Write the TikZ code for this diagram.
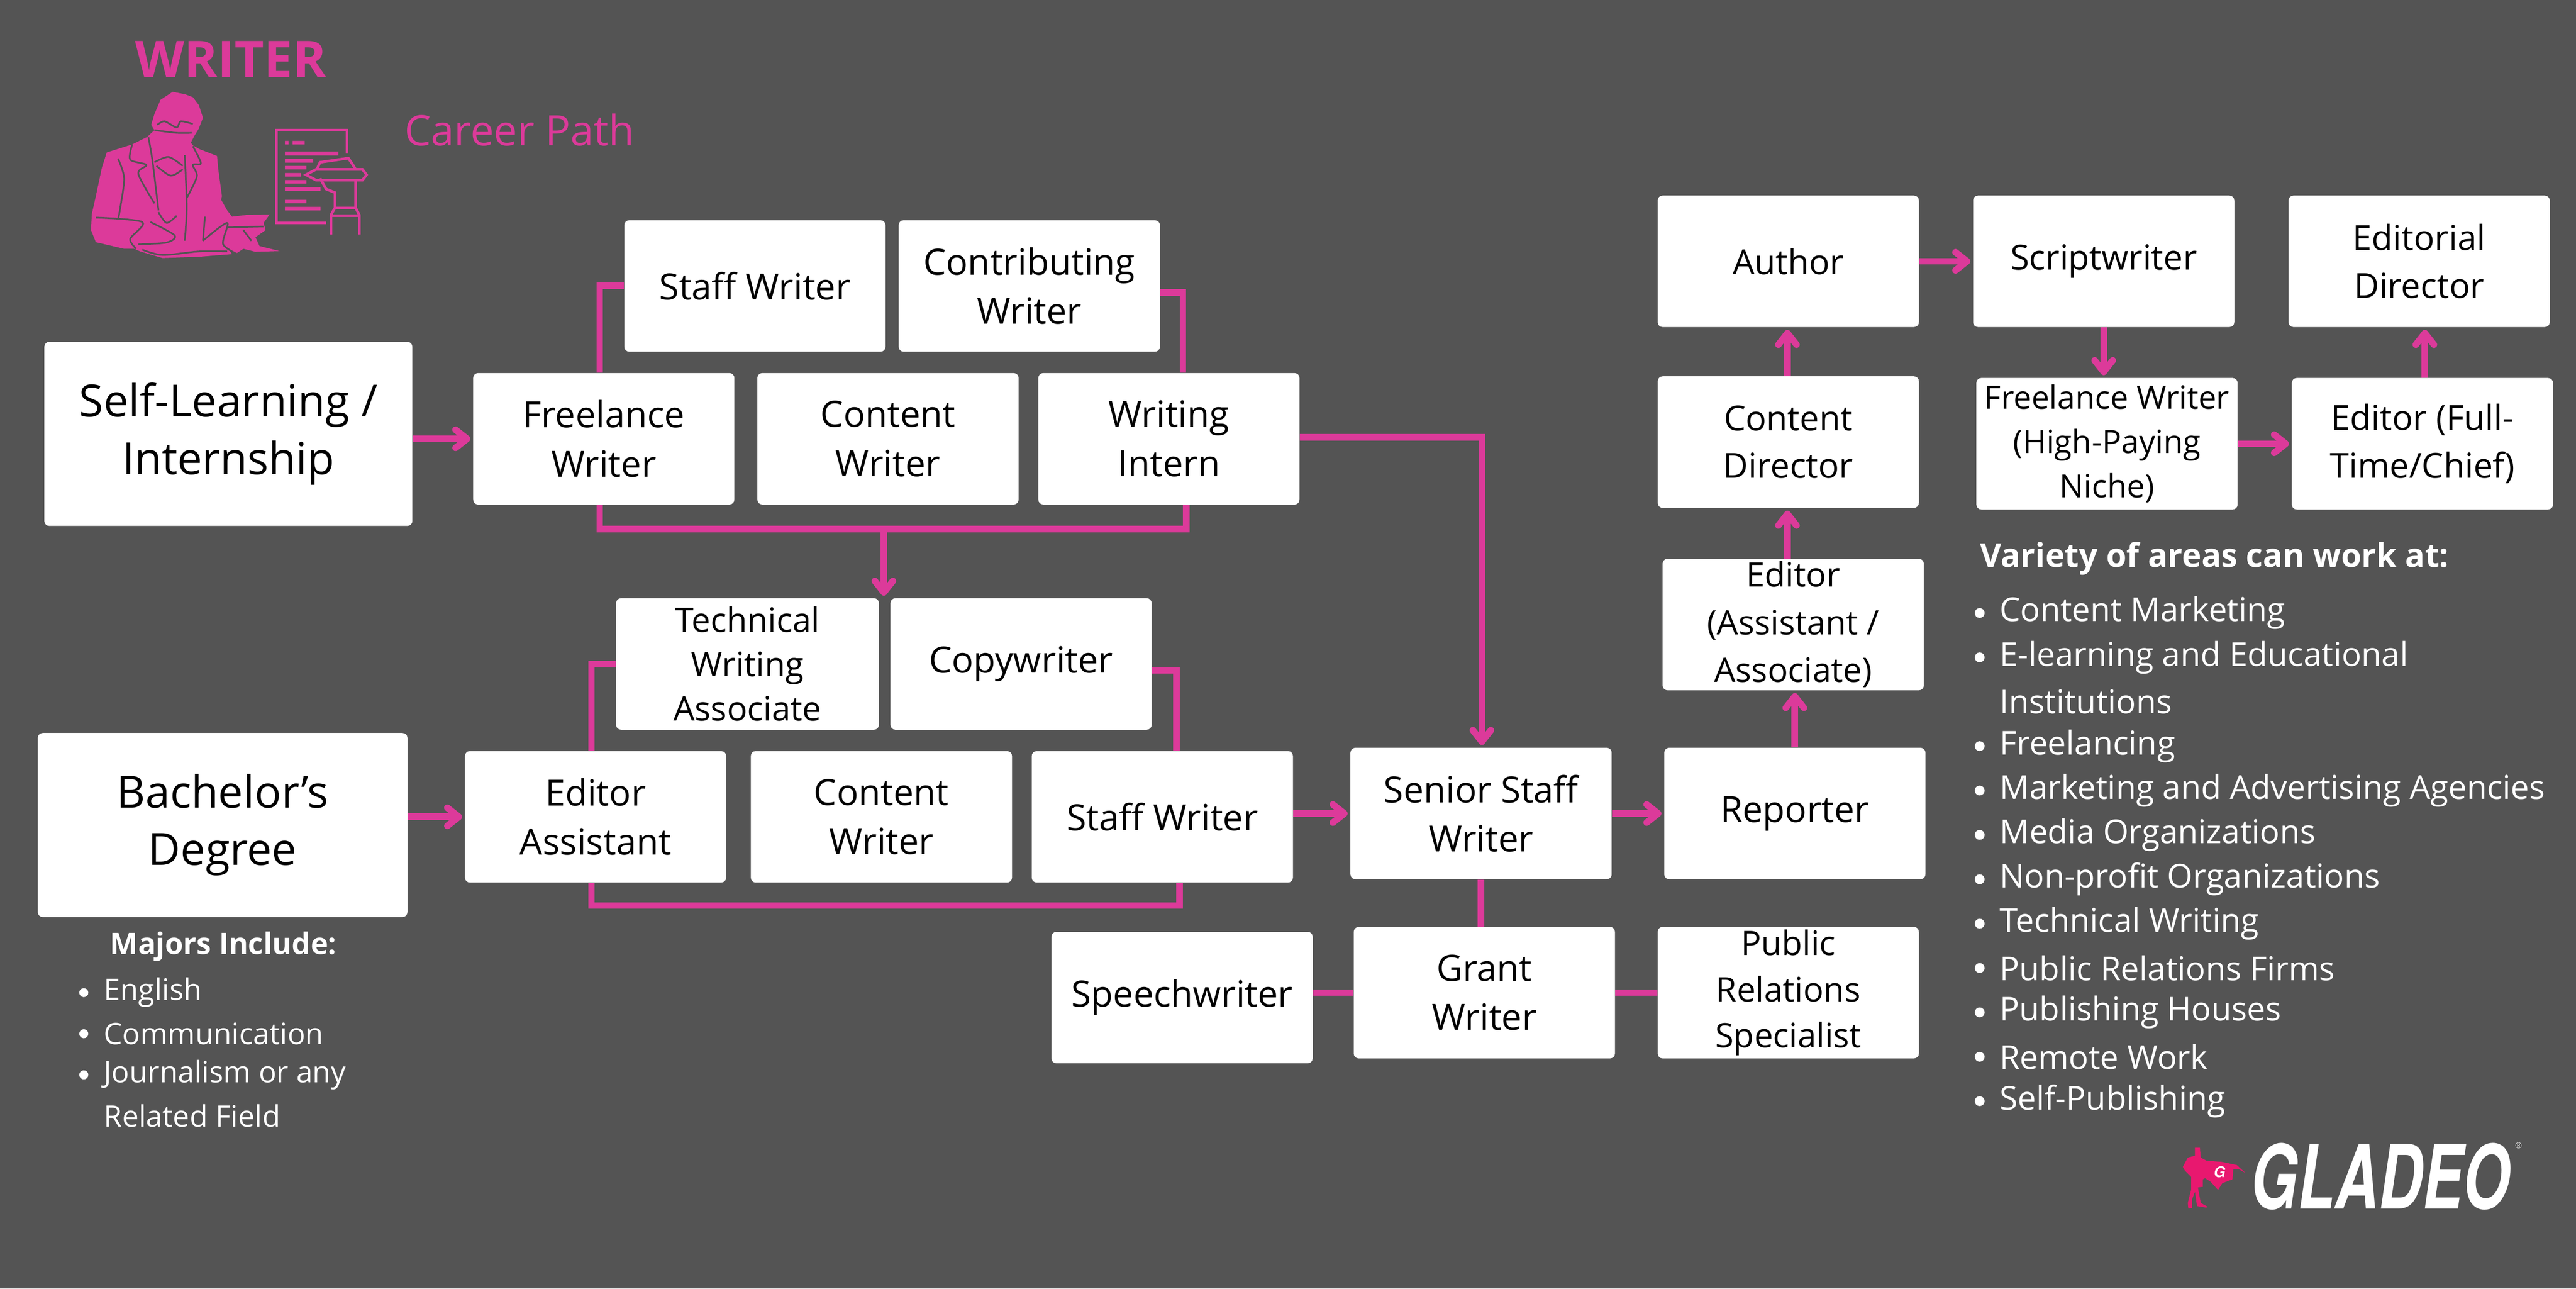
\documentclass[tikz,border=0pt]{standalone}
\usepackage{fontspec}
\usepackage{graphicx}
\setmainfont{Open Sans}
\newfontfamily\logofont{TeX Gyre Heros}
\usetikzlibrary{arrows.meta}
\definecolor{bgc}{HTML}{545454}
\definecolor{pk}{HTML}{DC3A9A}
\definecolor{hero}{HTML}{E8186F}
\newcommand{\fs}[2]{\fontsize{#1}{#2}\selectfont}
\tikzset{
  box/.style={fill=white,rounded corners=3pt,inner sep=0pt,align=center,text=black},
  conn/.style={draw=pk,line width=4pt},
  arr/.style={conn,-{Straight Barb[length=7pt,width=11pt,round]},shorten >=1.5pt},
  ttl/.style={text=pk,inner sep=0pt,anchor=west},
  wl/.style={text=white,inner sep=0pt,anchor=west},
  dot/.style={circle,fill=white,inner sep=0pt,minimum size=6pt},
  cut/.style={draw=bgc,line width=1pt,line join=round,fill=none},
  ink/.style={draw=pk,line width=1.6pt,fill=none,line join=miter}
}
% name, x0, y0, x1, y1, font size, leading, text
\newcommand{\bx}[8]{\node[box,minimum width={(#4-#2)*1pt},minimum height={(#5-#3)*1pt},font=\fs{#6}{#7}] (#1) at ({(#2+#4)/2},{(#3+#5)/2}) {#8};}
\begin{document}
\begin{tikzpicture}[x=1pt,y=-1pt]
\useasboundingbox (0,0) rectangle (1568,784);
\fill[bgc] (0,0) rectangle (1568,784);

% Title
\node[ttl,font=\bfseries\fs{31}{36}] (wt) at (82,36) {WRITER};
\node[ttl,font=\fs{25.5}{30}] (cp) at (246,79) {Career Path};

% Writer figure (traced)
\begin{scope}[shift={(22.7,0)},xscale=0.2459,yscale=0.1085]
\fill[pk] (335,515)--(365,528)--(385,545)--(400,590)--(410,660)--(400,720)--(388,765)--(380,800)--(385,815)--(400,835)--(445,875)--(448,950)--(457,1100)--(455,1120)--(470,1180)--(482,1215)--(520,1205)--(575,1203)--(560,1250)--(565,1290)--(540,1330)--(550,1380)--(600,1408)--(540,1412)--(510,1395)--(490,1425)--(470,1385)--(482,1425)--(400,1440)--(310,1447)--(255,1410)--(240,1395)--(215,1395)--(145,1358)--(133,1290)--(135,1200)--(145,1100)--(160,940)--(172,855)--(235,810)--(272,768)--(290,730)--(282,700)--(290,640)--(305,560)--cycle;
\draw[cut] plot[smooth] coordinates {(297,700)(315,680)(345,715)(355,680)(385,695)};
\draw[cut] plot[smooth] coordinates {(290,730)(345,745)(382,745)};
\draw[cut] plot[smooth] coordinates {(275,770)(285,900)(300,1180)};
\draw[cut] plot[smooth] coordinates {(235,810)(230,895)(270,925)(250,975)(290,1140)};
\draw[cut] plot[smooth] coordinates {(385,820)(405,915)(385,925)(395,990)(370,1110)};
\draw[cut] plot[smooth] coordinates {(290,910)(325,880)(360,930)};
\draw[cut] plot[smooth] coordinates {(295,930)(330,985)(360,950)};
\draw[cut] plot[smooth] coordinates {(365,870)(370,1160)(365,1350)};
\draw[cut] plot[smooth] coordinates {(200,890)(215,1000)(205,1170)(200,1230)};
\draw[cut] plot[smooth] coordinates {(145,1220)(260,1245)(230,1340)(245,1395)};
\draw[cut] plot[smooth] coordinates {(280,1245)(340,1320)(320,1360)(250,1370)};
\draw[cut] plot[smooth] coordinates {(415,1215)(410,1350)};
\draw[cut] plot[smooth] coordinates {(410,1350)(470,1250)(460,1370)(500,1430)};
\draw[cut] plot[smooth] coordinates {(260,1400)(310,1430)(400,1410)(470,1410)};
\draw[cut] plot[smooth] coordinates {(470,1275)(560,1270)};
\draw[cut] plot[smooth] coordinates {(510,1290)(530,1350)};
\draw[cut] plot[smooth] coordinates {(300,1190)(320,1250)(345,1210)};
% document and hand icon
\draw[ink] (715,1250)--(592,1250)--(592,730)--(767,730)--(767,860);
\fill[pk] (613,790) rectangle (622,810) (632,790) rectangle (662,810)
  (613,850) rectangle (745,872) (613,890) rectangle (683,912)
  (613,930) rectangle (666,950) (613,970) rectangle (653,990)
  (613,1010) rectangle (666,1030) (613,1050) rectangle (701,1070)
  (613,1120) rectangle (666,1140) (613,1160) rectangle (701,1180);
\draw[ink] (692,950)--(700,910)--(770,887)--(780,920)--(788,950);
\draw[ink] (665,980)--(690,950)--(805,950)--(815,980)--(805,1010)--(700,1010)--(690,1010)--cycle;
\draw[ink] (788,1010)--(788,1165)--(797,1205)--(797,1315);
\draw[ink] (727,1315)--(727,1205)--(737,1165)--(737,1080)--(715,1060)--(700,1000);
\draw[ink] (737,1165)--(788,1165) (727,1210)--(797,1210);
\end{scope}

% Boxes
\bx{self}{27}{208}{251}{320}{27}{35}{Self-Learning /\\Internship}
\bx{bach}{23}{446}{248}{558}{27}{35}{Bachelor’s\\Degree}
\bx{staffa}{380}{134}{539}{214}{22}{30}{Staff Writer}
\bx{contr}{547}{134}{706}{214}{22}{30}{Contributing\\Writer}
\bx{free}{288}{227}{447}{307}{22}{30}{Freelance\\Writer}
\bx{conta}{461}{227}{620}{307}{22}{30}{Content\\Writer}
\bx{intern}{632}{227}{791}{307}{22}{30}{Writing\\Intern}
\bx{tech}{375}{364}{535}{444}{20.5}{27}{Technical\\Writing\\Associate}
\bx{copy}{542}{364}{701}{444}{22}{30}{Copywriter}
\bx{edas}{283}{457}{442}{537}{22}{30}{Editor\\Assistant}
\bx{contb}{457}{457}{616}{537}{22}{30}{Content\\Writer}
\bx{staffb}{628}{457}{787}{537}{22}{30}{Staff Writer}
\bx{senior}{822}{455}{981}{535}{22}{30}{Senior Staff\\Writer}
\bx{speech}{640}{567}{799}{647}{22}{30}{Speechwriter}
\bx{grant}{824}{564}{983}{644}{22}{30}{Grant\\Writer}
\bx{pr}{1009}{564}{1168}{644}{20.5}{28}{Public\\Relations\\Specialist}
\bx{report}{1013}{455}{1172}{535}{22}{30}{Reporter}
\bx{assoc}{1012}{340}{1171}{420}{20.5}{29}{Editor\\(Assistant /\\Associate)}
\bx{cdir}{1009}{229}{1168}{309}{21}{29}{Content\\Director}
\bx{author}{1009}{119}{1168}{199}{21}{29}{\raisebox{-3pt}{Author}}
\bx{script}{1201}{119}{1360}{199}{21}{29}{\raisebox{2pt}{Scriptwriter}}
\bx{eddir}{1393}{119}{1552}{199}{21}{29}{Editorial\\Director}
\bx{fh}{1203}{230}{1362}{310}{19.5}{27}{Freelance Writer\\(High-Paying\\Niche)}
\bx{ef}{1395}{230}{1554}{310}{21}{29}{Editor (Full-\\Time/Chief)}

% Bend points
\coordinate (c1) at (365,174);
\coordinate (c2) at (720,178);
\coordinate (c3) at (365,322);
\coordinate (c4) at (722,322);
\coordinate (c5) at (538,322);
\coordinate (c5e) at (538,364);
\coordinate (c6) at (902,266);
\coordinate (c7) at (360,404);
\coordinate (c8) at (716,408);
\coordinate (c9) at (360,551);
\coordinate (c10) at (718,551);
\coordinate (c11) at (1476,215);
\coordinate (c12) at (1088,300);

% Connectors
\draw[arr] (self.east |- free.west) -- (free.west);
\draw[conn] (c1 |- free.north) -- (c1) -- (staffa.west |- c1);
\draw[conn] (contr.east |- c2) -- (c2) -- (c2 |- intern.north);
\draw[conn] (c3 |- free.south) -- (c3) -- (c4) -- (c4 |- intern.south);
\draw[arr] (c5) -- (c5e);
\draw[arr] (intern.east |- c6) -- (c6) -- (c6 |- senior.north);
\draw[arr] (bach.east |- edas.west) -- (edas.west);
\draw[conn] (tech.west |- c7) -- (c7) -- (c7 |- edas.north);
\draw[conn] (copy.east |- c8) -- (c8) -- (c8 |- staffb.north);
\draw[conn] (c9 |- edas.south) -- (c9) -- (c10) -- (c10 |- staffb.south);
\draw[arr] (staffb.east |- senior.west) -- (senior.west);
\draw[arr] (senior.east) -- (report.west);
\draw[conn] (senior.south) -- (senior.south |- grant.north);
\draw[conn] (speech.east |- grant.west) -- (grant.west);
\draw[conn] (grant.east) -- (pr.west);
\draw[arr] (report.north) -- (report.north |- assoc.south);
\draw[arr] (c12 |- assoc.north) -- (c12 |- cdir.south);
\draw[arr] (c12 |- cdir.north) -- (c12 |- author.south);
\draw[arr] (author.east) -- (script.west);
\draw[arr] (script.south) -- (script.south |- fh.north);
\draw[arr] (fh.east) -- (ef.west);
\draw[arr] (c11 |- ef.north) -- (c11 |- eddir.south);

% Majors
\node[text=white,inner sep=0pt,font=\bfseries\fs{18}{22}] (maj) at (136,576) {Majors Include:};
\foreach \nm/\yy/\tx in {ma/604/English,mb/629/Communication,mc/654/Journalism or any,md/679/Related Field}{
  \node[wl,font=\fs{18}{22}] (\nm) at (63,\yy) {\tx};
}
\node[dot,minimum size=5.5pt] (da) at (51,604) {};
\node[dot,minimum size=5.5pt] (db) at (51,629) {};
\node[dot,minimum size=5.5pt] (dc) at (51,654) {};

% Areas
\node[wl,font=\bfseries\fs{20}{24}] (var) at (1205,340) {Variety of areas can work at:};
\foreach \nm/\yy/\tx in {a/373/Content Marketing,b/400/E-learning and Educational,b2/427/Institutions,c/454/Freelancing,d/481/Marketing and Advertising Agencies,e/508/Media Organizations,f/535/Non-profit Organizations,g/562/Technical Writing,h/589/Public Relations Firms,i/616/Publishing Houses,j/643/Remote Work,k/670/Self-Publishing}{
  \node[wl,font=\fs{20}{24}] (ar\nm) at (1217,\yy) {\tx};
}
\foreach \nm/\yy in {a/373,b/400,c/454,d/481,e/508,f/535,g/562,h/589,i/616,j/643,k/670}{
  \node[dot] (dt\nm) at (1205,\yy) {};
}

% Logo
\begin{scope}[shift={(1293.1,669.2)},xscale=0.17535,yscale=0.07562]
\fill[hero] (245,385)--(262,385)--(265,465)--(285,490)--(340,500)--(390,525)--(420,588)--(395,555)--(378,560)--(375,640)--(340,670)--(325,725)--(300,660)--(280,630)--(272,640)--(272,700)--(255,705)--(265,830)--(287,858)--(285,868)--(252,855)--(245,740)--(235,800)--(235,870)--(222,875)--(220,830)--(232,720)--(232,620)--(210,570)--(203,540)--(220,465)--(245,450)--cycle;
\end{scope}
\node[text=white,inner sep=0pt,font=\logofont\bfseries\itshape\fs{9}{10}] (lg) at (1351,713) {G};
\node[text=white,inner sep=0pt] (glad) at (1449,716) {\resizebox{158pt}{40pt}{\logofont\bfseries\itshape GLADEO}};
\node[text=white,inner sep=0pt,font=\fs{5}{6}] (reg) at (1533,697) {®};
\end{tikzpicture}
\end{document}
